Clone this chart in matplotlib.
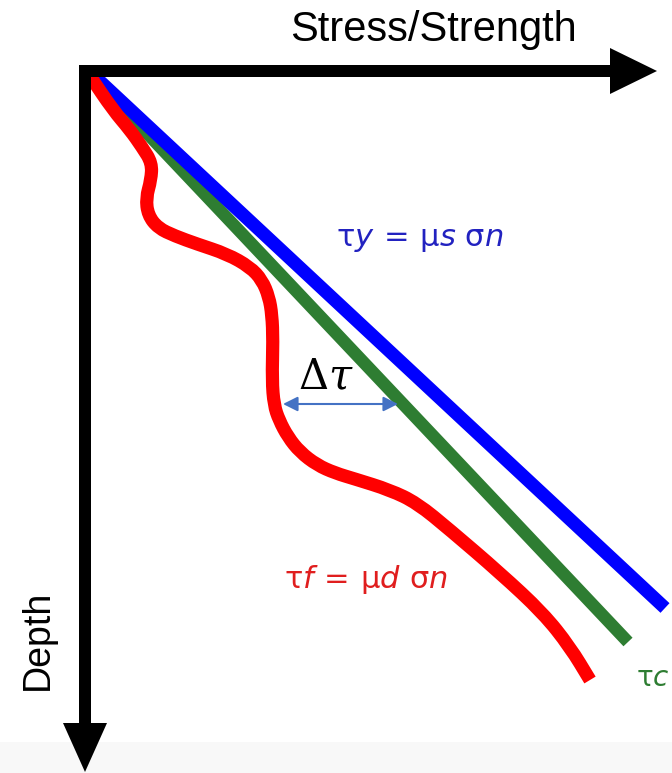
import matplotlib
matplotlib.use("Agg")
import matplotlib.pyplot as plt
from matplotlib.path import Path
from matplotlib.patches import PathPatch

# ---- data (drawing units: pixel-like coordinates, depth grows downward) ----
blue_x = [90, 665]
blue_y = [72, 608]
green_x = [92, 628]
green_y = [75, 642]
red_x = [90, 113, 130, 142, 152, 151, 146, 148, 158, 175, 197, 227, 250, 262,
         269, 272, 273, 272, 274, 279, 288, 300, 317, 335, 355, 390, 417, 450,
         500, 543, 570, 590]
red_y = [76, 110, 130, 147, 163, 180, 198, 215, 228, 236, 244, 254, 267, 280,
         297, 315, 340, 380, 405, 420, 437, 452, 465, 473, 479, 490, 503, 530,
         573, 613, 647, 680]
x_label = "Stress/Strength"
y_label = "Depth"
blue_label = r"$\mathrm{τ}\mathit{y}\,=\,\mathrm{μ}\mathit{s}\ \mathrm{σ}\mathit{n}$"
red_label = r"$\mathrm{τ}\mathit{f}\,=\,\mathrm{μ}\mathit{d}\ \mathrm{σ}\mathit{n}$"
green_label = r"$\mathrm{τ}\mathit{c}$"
delta_label = r"$\Delta\tau$"

plt.rcParams['mathtext.fontset'] = 'dejavusans'

fig = plt.figure(figsize=(6.72, 7.73), dpi=100)
ax = fig.add_axes([0, 0, 1, 1])
ax.set_xlim(0, 672)
ax.set_ylim(773, 0)
ax.axis('off')

ax.axhspan(742, 773, color='#f8f8f8', zorder=0, lw=0)

ax.plot(green_x, green_y, color='#2e7d32', lw=9.0, solid_capstyle='butt', zorder=2)
ax.plot(blue_x, blue_y, color='#0000ff', lw=9.5, solid_capstyle='butt', zorder=3)

# red curve: smooth quadratic path using the read points as control points
pts = list(zip(red_x, red_y))
verts = [pts[0], ((pts[0][0] + pts[1][0]) / 2, (pts[0][1] + pts[1][1]) / 2)]
codes = [Path.MOVETO, Path.LINETO]
for i in range(1, len(pts) - 1):
    mid = ((pts[i][0] + pts[i + 1][0]) / 2, (pts[i][1] + pts[i + 1][1]) / 2)
    verts += [pts[i], mid]
    codes += [Path.CURVE3, Path.CURVE3]
verts.append(pts[-1])
codes.append(Path.LINETO)
ax.add_patch(PathPatch(Path(verts, codes), fill=False, ec='#ff0000', lw=9.5,
                       capstyle='butt', joinstyle='round', zorder=4))

# axes arrows
ax.arrow(79, 71, 657 - 79, 0, width=12, head_width=46, head_length=47,
         length_includes_head=True, fc='black', ec='none', zorder=5)
ax.arrow(85, 65, 0, 772 - 65, width=12, head_width=44, head_length=49,
         length_includes_head=True, fc='black', ec='none', zorder=5)

# delta tau arrow
ax.annotate('', xy=(283, 404), xytext=(398, 404),
            arrowprops=dict(arrowstyle='<|-|>', color='#4472c4', lw=1.5,
                            mutation_scale=22, shrinkA=0, shrinkB=0), zorder=6)
ax.text(326, 377, delta_label, fontsize=30, ha='center', va='center',
        color='black', math_fontfamily='dejavuserif')

ax.text(433, 30, x_label, fontsize=30, family='Liberation Sans',
        ha='center', va='center', color='black')
ax.text(38, 640, y_label, fontsize=27, family='Liberation Sans', rotation=90,
        ha='center', va='center', color='black')

ax.text(420, 240, blue_label, fontsize=22, ha='center', va='center', color='#2222c0')
ax.text(366, 580, red_label, fontsize=22, ha='center', va='center', color='#e01e1e')
ax.text(636, 678, green_label, fontsize=20, ha='left', va='center', color='#2e7d32')

fig.savefig('out.png', dpi=100)
